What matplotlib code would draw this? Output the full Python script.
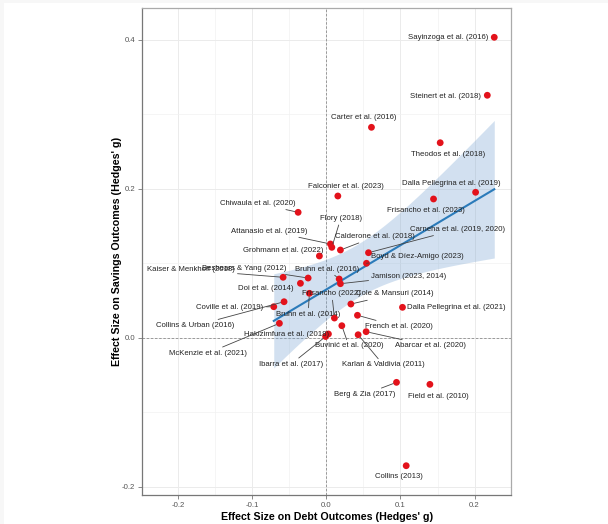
import numpy as np
import matplotlib
matplotlib.use("Agg")
import matplotlib.pyplot as plt
from matplotlib.patches import Rectangle

plt.rcParams['font.family'] = ['Liberation Sans', 'DejaVu Sans']

# study effect sizes (Hedges' g): debt outcome vs savings outcome
studies = [
    "Sayinzoga et al. (2016)", "Steinert et al. (2018)", "Carter et al. (2016)",
    "Theodos et al. (2018)", "Dalla Pellegrina et al. (2019)", "Frisancho et al. (2023)",
    "Falconier et al. (2023)", "Chiwaula et al. (2020)", "Attanasio et al. (2019)",
    "Flory (2018)", "Calderone et al. (2018)", "Grohmann et al. (2022)",
    "Carneha et al. (2019, 2020)", "Boyd & Díez-Amigo (2023)", "Kaiser & Menkhoff (2018)",
    "Beshears & Yang (2012)", "Bruhn et al. (2016)", "Jamison (2023, 2014)",
    "Doi et al. (2014)", "Bruhn et al. (2014)", "Frisancho (2022)",
    "Cole & Mansuri (2014)", "Dalla Pellegrina et al. (2021)", "French et al. (2020)",
    "Buvinić et al. (2020)", "Karlan & Valdivia (2011)", "Abarcar et al. (2020)",
    "Hakizimfura et al. (2018)", "Ibarra et al. (2017)", "Coville et al. (2019)",
    "Collins & Urban (2016)", "McKenzie et al. (2021)", "Berg & Zia (2017)",
    "Field et al. (2010)", "Collins (2013)",
]
debt_g = [
    0.2266, 0.2172, 0.0608, 0.1536, 0.2014, 0.1446, 0.0154, -0.0382, 0.0054,
    0.0073, 0.0189, -0.0095, 0.0568, 0.0541, -0.0585, -0.0247, 0.0172, 0.0189,
    -0.0351, -0.0230, 0.0108, 0.0330, 0.1027, 0.0419, 0.0208, 0.0428, 0.0536,
    0.0027, -0.0011, -0.0711, -0.0572, -0.0635, 0.0946, 0.1397, 0.1077,
]
savings_g = [
    0.4032, 0.3254, 0.2824, 0.2617, 0.1952, 0.1862, 0.1902, 0.1683, 0.1258,
    0.1213, 0.1177, 0.1097, 0.1141, 0.0999, 0.0811, 0.0801, 0.0788, 0.0725,
    0.0730, 0.0596, 0.0264, 0.0452, 0.0408, 0.0301, 0.0161, 0.0040, 0.0081,
    0.0050, 0.0016, 0.0416, 0.0483, 0.0193, -0.0599, -0.0626, -0.1718,
]

# where each label sits, and whether a leader segment is drawn to its point
label_pos = [
    (0.1645, 0.4027, False), (0.1604, 0.3235, False), (0.0505, 0.2953, False),
    (0.1641, 0.2462, False), (0.1682, 0.2072, False), (0.1345, 0.1705, False),
    (0.0259, 0.2027, False), (-0.0926, 0.1804, True), (-0.0772, 0.1432, True),
    (0.0192, 0.1597, True), (0.0658, 0.1356, True), (-0.0582, 0.1177, False),
    (0.1766, 0.1455, True), (0.1232, 0.1087, True), (-0.1831, 0.0909, True),
    (-0.1103, 0.0932, True), (0.0009, 0.0922, True), (0.1114, 0.0828, True),
    (-0.0812, 0.0654, False), (-0.0247, 0.0318, True), (0.0073, 0.0587, True),
    (0.0918, 0.0587, True), (0.1755, 0.0403, False), (0.0978, 0.0148, True),
    (0.0303, -0.0111, True), (0.0770, -0.0366, True), (0.1404, -0.0111, True),
    (-0.0534, 0.0046, False), (-0.0480, -0.0357, True), (-0.1301, 0.0408, True),
    (-0.1778, 0.0161, True), (-0.1605, -0.0209, True), (0.0519, -0.0760, True),
    (0.1507, -0.0787, False), (0.0980, -0.1866, False),
]

x = np.array(debt_g)
y = np.array(savings_g)

fig = plt.figure(figsize=(6.08, 5.24), dpi=100, facecolor='#f7f7f7')
fig.patches.append(Rectangle((4 / 608, 0), 1, 1 - 3 / 524, transform=fig.transFigure,
                             facecolor='white', edgecolor='none', zorder=-10))
ax = fig.add_axes([142 / 608, 29 / 524, 369.3 / 608, 487.5 / 524])
ax.set_xlim(-0.249, 0.2496)
ax.set_ylim(-0.2111, 0.4432)

# grid like theme_bw
ax.set_xticks([-0.2, -0.1, 0.0, 0.1, 0.2])
ax.set_xticks([-0.15, -0.05, 0.05, 0.15], minor=True)
ax.set_yticks([-0.2, 0.0, 0.2, 0.4])
ax.set_yticks([-0.1, 0.1, 0.3], minor=True)
ax.grid(which='major', color='#ebebeb', lw=0.7)
ax.grid(which='minor', color='#f2f2f2', lw=0.5)
ax.set_axisbelow(True)
ax.tick_params(which='major', length=3, width=0.6, color='#777777',
               labelsize=5.6, labelcolor='#555555', pad=2)
ax.tick_params(which='minor', length=0)
ax.set_xticklabels(['-0.2', '-0.1', '0.0', '0.1', '0.2'])
ax.set_yticklabels(['-0.2', '0.0', '0.2', '0.4'])
for side in ['left', 'bottom']:
    ax.spines[side].set_color('#777777')
    ax.spines[side].set_linewidth(0.9)
for side in ['top', 'right']:
    ax.spines[side].set_color('#aaaaaa')
    ax.spines[side].set_linewidth(0.9)

ax.axhline(0, color='#8c8c8c', lw=0.6, ls=(0, (3, 2)), zorder=1)
ax.axvline(0, color='#8c8c8c', lw=0.6, ls=(0, (3, 2)), zorder=1)

# linear fit with 95% confidence band
n = len(x)
slope, icept = np.polyfit(x, y, 1)
resid = y - (icept + slope * x)
s = np.sqrt(np.sum(resid ** 2) / (n - 2))
xs = np.linspace(x.min(), x.max(), 100)
fit = icept + slope * xs
se = s * np.sqrt(1 / n + (xs - x.mean()) ** 2 / np.sum((x - x.mean()) ** 2))
t95 = 2.035
ax.fill_between(xs, fit - t95 * se, fit + t95 * se, color='#7fa8d4', alpha=0.35,
                lw=0, zorder=2)
ax.plot(xs, fit, color='#2b7bba', lw=1.5, zorder=3)

ax.scatter(x, y, s=24, color='#e3121b', edgecolors='none', zorder=4)

for name, px, py, (lx, ly, seg) in zip(studies, x, y, label_pos):
    if seg:
        ax.annotate(name, xy=(px, py), xytext=(lx, ly), ha='center', va='center',
                    fontsize=5.6, color='#222222', zorder=5,
                    arrowprops=dict(arrowstyle='-', color='#444444', lw=0.6,
                                    shrinkA=0, shrinkB=2.5))
    else:
        ax.text(lx, ly, name, ha='center', va='center', fontsize=5.6,
                color='#222222', zorder=5)

ax.set_xlabel("Effect Size on Debt Outcomes (Hedges' g)", fontsize=7.7,
              fontweight='bold', va='center')
ax.set_ylabel("Effect Size on Savings Outcomes (Hedges' g)", fontsize=7.7,
              fontweight='bold', va='center', ha='center')
ax.xaxis.set_label_coords(0.5, -0.0445)
ax.yaxis.set_label_coords(-0.0677, 0.5)

fig.savefig('out.png', dpi=100, facecolor=fig.get_facecolor())
